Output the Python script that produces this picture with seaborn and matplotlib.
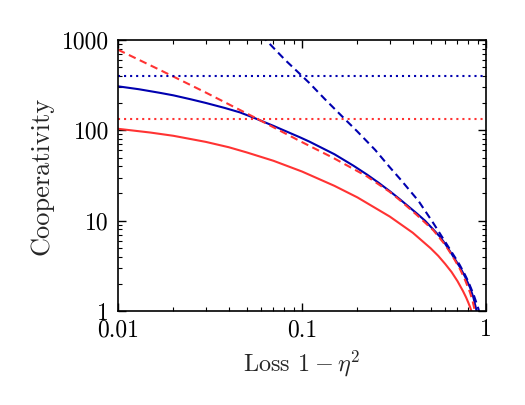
import matplotlib
matplotlib.use("Agg")
import matplotlib.pyplot as plt
import seaborn as sns
import pandas as pd
from matplotlib.ticker import FixedLocator, FixedFormatter, LogLocator, NullFormatter

# ---- data ----
red_solid_x = [0.01, 0.015, 0.02, 0.03, 0.04, 0.05, 0.07, 0.1, 0.15, 0.2, 0.3, 0.4, 0.5, 0.55, 0.6,
               0.65, 0.7, 0.75, 0.78, 0.8, 0.82, 0.85]
red_solid_y = [104, 94.5, 87, 74.5, 65, 57, 46, 35, 24.3, 18.1, 11.1, 7.35, 4.95, 4.08, 3.32, 2.7,
               2.14, 1.66, 1.41, 1.25, 1.1, 0.885]

blue_solid_x = [0.01, 0.013, 0.0169, 0.02, 0.025, 0.03, 0.038, 0.046, 0.0556, 0.07, 0.0975, 0.11, 0.15,
                0.19, 0.225, 0.26, 0.3, 0.341, 0.38, 0.42, 0.466, 0.518, 0.56, 0.6, 0.66, 0.723, 0.77,
                0.819, 0.855, 0.889, 0.9]
blue_solid_y = [307, 285, 260, 244, 220, 201, 177, 158, 136, 112, 83.7, 74.8, 54.4, 40.7, 32.5, 26.4,
                21.2, 17.2, 14.3, 12.05, 10, 7.95, 6.7, 5.55, 4.09, 3.04, 2.39, 1.82, 1.4, 1.0, 0.89]

red_dashed_x = [0.01, 0.0169, 0.03, 0.046, 0.0556, 0.0975, 0.148, 0.225, 0.3, 0.341, 0.42, 0.518, 0.6,
                0.66, 0.723, 0.77, 0.819, 0.845, 0.87, 0.88]
red_dashed_y = [781, 466, 262, 168, 138, 76, 49.5, 31, 20.8, 16.8, 11.6, 7.8, 5.4, 4.0, 2.9, 2.2, 1.6,
                1.3, 1.0, 0.88]

blue_dashed_x = [0.06, 0.0637, 0.081, 0.1, 0.11, 0.133, 0.171, 0.2, 0.25, 0.3, 0.341, 0.43, 0.518, 0.6,
                 0.65, 0.693, 0.72, 0.77, 0.8, 0.836, 0.86, 0.88, 0.9, 0.916, 0.93]
blue_dashed_y = [1127, 1000, 601, 400, 332, 222, 133, 97, 60.6, 39, 29, 16.5, 9.35, 5.83,
                 4.5, 3.67, 3.23, 2.5, 2.13, 1.71, 1.48, 1.29, 1.13, 1.0, 0.89]

red_limit = 133
blue_limit = 400

x_ticks = [0.01, 0.1, 1]
x_tick_labels = ["0.01", "0.1", "1"]
y_ticks = [1, 10, 100, 1000]
y_tick_labels = ["1", "10", "100", "1000"]

RED = "#ff3333"
BLUE = "#0000b0"

sns.set_style("ticks")
plt.rcParams["font.family"] = ["cmr10", "DejaVu Serif"]
plt.rcParams["mathtext.fontset"] = "cm"
plt.rcParams["axes.formatter.use_mathtext"] = True
plt.rcParams["axes.unicode_minus"] = False

fig = plt.figure(figsize=(5.25, 4.05), dpi=100)
ax = fig.add_axes([118 / 525, 1 - 311 / 405, (486 - 118) / 525, (311 - 40) / 405])

def series(xs, ys):
    return pd.DataFrame({"x": xs, "y": ys})

lw = 1.5
sns.lineplot(data=series(red_solid_x, red_solid_y), x="x", y="y", ax=ax, color=RED, lw=lw, sort=False)
sns.lineplot(data=series(blue_solid_x, blue_solid_y), x="x", y="y", ax=ax, color=BLUE, lw=lw, sort=False)
l1 = sns.lineplot(data=series(red_dashed_x, red_dashed_y), x="x", y="y", ax=ax, color=RED, lw=lw, sort=False).lines[-1]
l1.set_dashes([3.6, 2.2])
l2 = sns.lineplot(data=series(blue_dashed_x, blue_dashed_y), x="x", y="y", ax=ax, color=BLUE, lw=lw, sort=False).lines[-1]
l2.set_dashes([3.6, 2.2])
ax.axhline(red_limit, color=RED, lw=lw, ls=(0, (1, 1.9)))
ax.axhline(blue_limit, color=BLUE, lw=lw, ls=(0, (1, 1.9)))

ax.set_xscale("log")
ax.set_yscale("log")
ax.set_xlim(0.01, 1)
ax.set_ylim(1, 1000)

ax.xaxis.set_major_locator(FixedLocator(x_ticks))
ax.xaxis.set_major_formatter(FixedFormatter(x_tick_labels))
ax.yaxis.set_major_locator(FixedLocator(y_ticks))
ax.yaxis.set_major_formatter(FixedFormatter(y_tick_labels))
ax.xaxis.set_minor_locator(LogLocator(base=10, subs=range(2, 10)))
ax.yaxis.set_minor_locator(LogLocator(base=10, subs=range(2, 10)))
ax.xaxis.set_minor_formatter(NullFormatter())
ax.yaxis.set_minor_formatter(NullFormatter())

for s in ax.spines.values():
    s.set_visible(True)
    s.set_linewidth(1.2)
    s.set_color("black")

ax.tick_params(which="both", direction="in", top=True, right=True, colors="black")
ax.tick_params(which="major", length=6, width=1.0, labelsize=17)
ax.tick_params(which="minor", length=3.2, width=0.8)
ax.tick_params(axis="x", which="major", pad=6)
ax.tick_params(axis="y", which="major", pad=6.5)

ax.set_xlabel(r"Loss $1-\eta^2$", fontsize=17.5, labelpad=5)
ax.set_ylabel("Cooperativity", fontsize=19, labelpad=6)

fig.savefig("out.png", dpi=100)
